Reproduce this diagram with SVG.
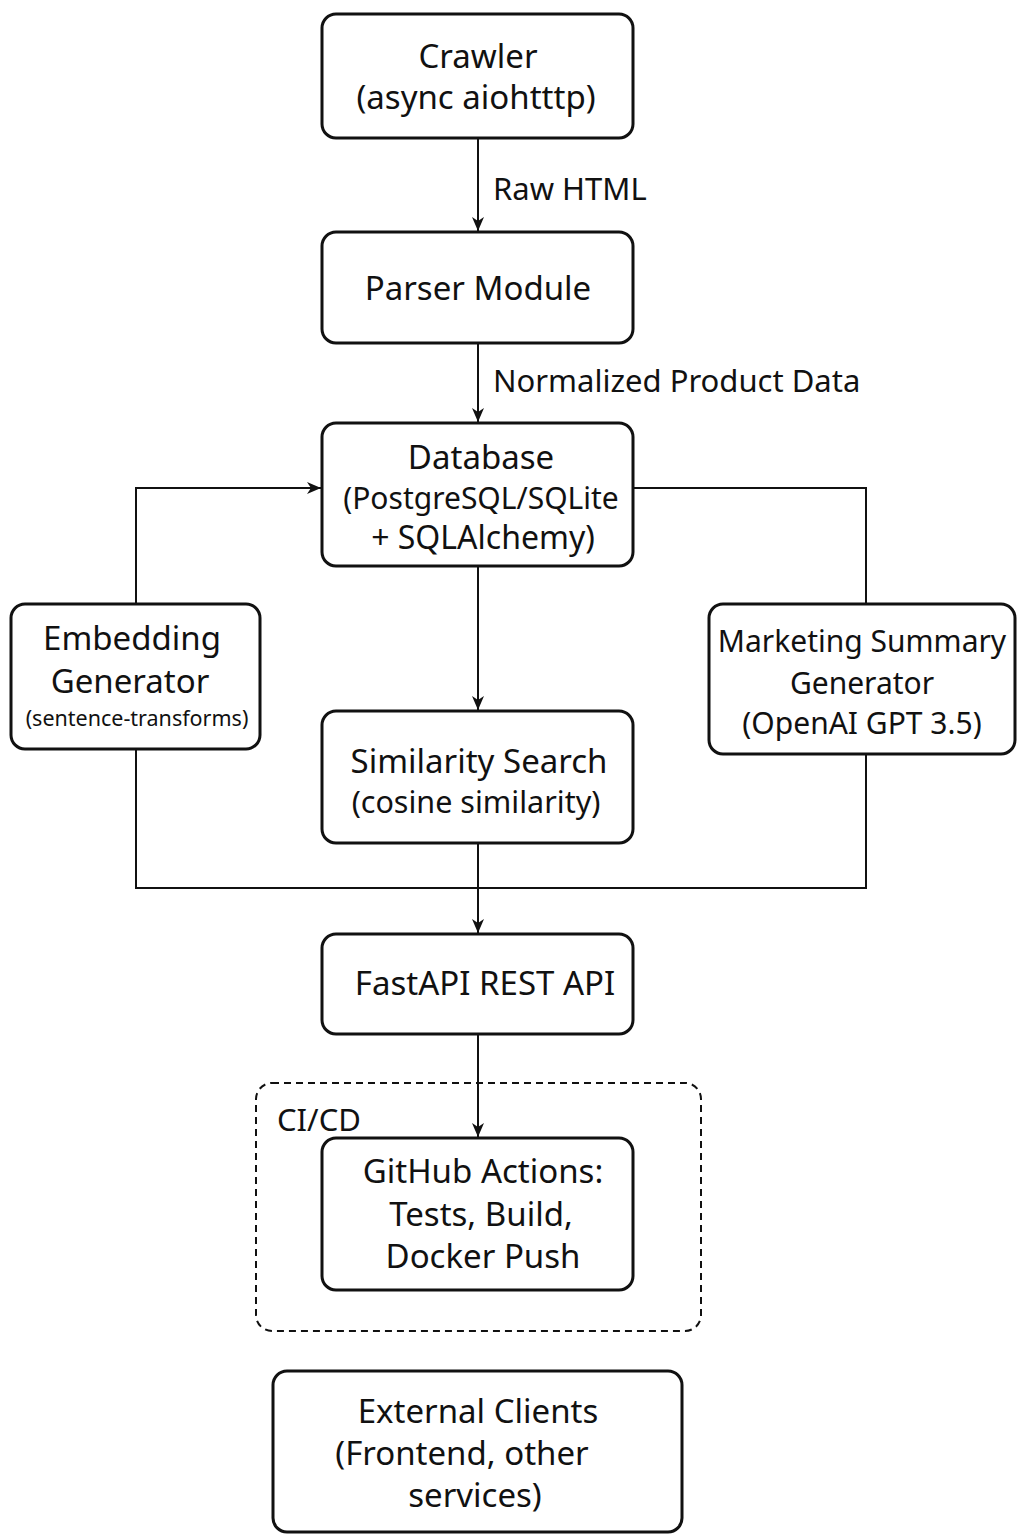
<svg xmlns="http://www.w3.org/2000/svg" width="1024" height="1536" viewBox="0 0 1024 1536">
<defs>
<marker id="arr" viewBox="0 0 14 12" refX="14" refY="6" markerWidth="14" markerHeight="12" markerUnits="userSpaceOnUse" orient="auto">
<path d="M0,0 L14,6 L0,12 L4,6 z" fill="#111"/>
</marker>
<style>
.box{fill:#fff;stroke:#111;stroke-width:3}
.t{font-family:"Noto Sans","Open Sans",sans-serif;font-size:33px;fill:#111;text-anchor:middle}
.lbl{font-family:"Noto Sans","Open Sans",sans-serif;font-size:31px;fill:#111}
.c{fill:none;stroke:#111;stroke-width:2}
</style>
</defs>
<rect width="1024" height="1536" fill="#fff"/>
<g id="connectors">
<line class="c" x1="478" y1="138" x2="478" y2="231" marker-end="url(#arr)"/>
<line class="c" x1="478" y1="343" x2="478" y2="422" marker-end="url(#arr)"/>
<polyline class="c" points="136,604 136,488 321,488" marker-end="url(#arr)"/>
<polyline class="c" points="633,488 866,488 866,604"/>
<line class="c" x1="478" y1="566" x2="478" y2="710" marker-end="url(#arr)"/>
<polyline class="c" points="136,749 136,888 866,888 866,754"/>
<line class="c" x1="478" y1="843" x2="478" y2="933" marker-end="url(#arr)"/>
<line class="c" x1="478" y1="1034" x2="478" y2="1137" marker-end="url(#arr)"/>
<text class="lbl" x="493" y="200">Raw HTML</text>
<text class="lbl" x="493" y="392">Normalized Product Data</text>
</g>
<g id="cicd">
<rect x="256" y="1083" width="445" height="248" rx="16" fill="none" stroke="#111" stroke-width="2" stroke-dasharray="7,5"/>
<text class="lbl" x="277" y="1131">CI/CD</text>
</g>
<g id="crawler">
<rect class="box" x="322" y="14" width="311" height="124" rx="14"/>
<text class="t" x="478" y="68">Crawler</text>
<text class="t" x="476" y="109">(async aiohtttp)</text>
</g>
<g id="parser">
<rect class="box" x="322" y="232" width="311" height="111" rx="14"/>
<text class="t" x="478" y="300">Parser Module</text>
</g>
<g id="database">
<rect class="box" x="322" y="423" width="311" height="143" rx="14"/>
<text class="t" x="481" y="469">Database</text>
<text class="t" x="481" y="509" style="font-size:30px">(PostgreSQL/SQLite</text>
<text class="t" x="483" y="549" style="font-size:32px">+ SQLAlchemy)</text>
</g>
<g id="embedding">
<rect class="box" x="11" y="604" width="249" height="145" rx="14"/>
<text class="t" x="132" y="650">Embedding</text>
<text class="t" x="130" y="693">Generator</text>
<text class="t" x="137" y="726" style="font-size:21.5px">(sentence-transforms)</text>
</g>
<g id="marketing">
<rect class="box" x="709" y="604" width="306" height="150" rx="14"/>
<text class="t" x="862" y="652" style="font-size:30px">Marketing Summary</text>
<text class="t" x="862" y="694" style="font-size:30px">Generator</text>
<text class="t" x="862" y="734" style="font-size:30px">(OpenAI GPT 3.5)</text>
</g>
<g id="similarity">
<rect class="box" x="322" y="711" width="311" height="132" rx="14"/>
<text class="t" x="479" y="773">Similarity Search</text>
<text class="t" x="476" y="813" style="font-size:30.5px">(cosine similarity)</text>
</g>
<g id="fastapi">
<rect class="box" x="322" y="934" width="311" height="100" rx="14"/>
<text class="t" x="485" y="995">FastAPI REST API</text>
</g>
<g id="github">
<rect class="box" x="322" y="1138" width="311" height="152" rx="14"/>
<text class="t" x="483" y="1183">GitHub Actions:</text>
<text class="t" x="481" y="1226">Tests, Build,</text>
<text class="t" x="483" y="1268">Docker Push</text>
</g>
<g id="clients">
<rect class="box" x="273" y="1371" width="409" height="161" rx="14"/>
<text class="t" x="478" y="1423">External Clients</text>
<text class="t" x="462" y="1465">(Frontend, other</text>
<text class="t" x="475" y="1507">services)</text>
</g>
</svg>
